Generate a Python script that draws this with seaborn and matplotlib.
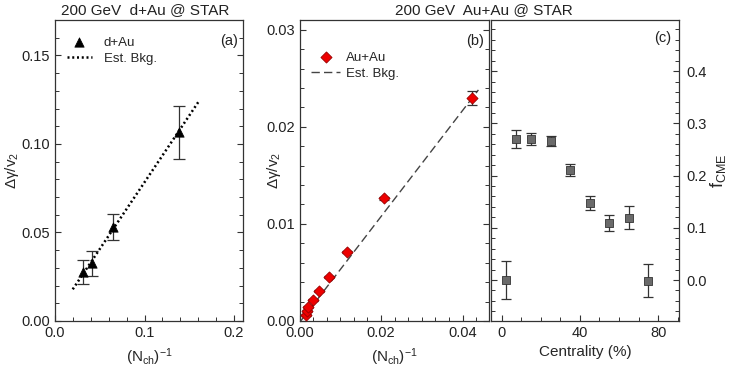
import numpy as np
import pandas as pd
import matplotlib
matplotlib.use("Agg")
import matplotlib.pyplot as plt
import seaborn as sns
from matplotlib.ticker import MultipleLocator

# ---------------- data ----------------
# (a) d+Au
dau_x = [0.0316, 0.0417, 0.0645, 0.1385]
dau_y = [0.0278, 0.0325, 0.0532, 0.1067]
dau_err = [0.0068, 0.0073, 0.0074, 0.0150]
dau_bkg_x = [0.0198, 0.160]
dau_bkg_y = [0.0179, 0.1236]

# (b) Au+Au
auau_x = [0.00151, 0.00176, 0.00215, 0.00322, 0.00476, 0.00727, 0.01176, 0.02062, 0.04242]
auau_y = [0.00062, 0.00106, 0.00140, 0.00216, 0.00309, 0.00453, 0.00707, 0.01262, 0.02294]
auau_err = [0.0001, 0.0001, 0.0001, 0.0001, 0.0001, 0.0001, 0.0001, 0.0002, 0.0007]
auau_bkg_x = [0.0003, 0.0439]
auau_bkg_y = [0.0000, 0.0238]

# (c) f_CME vs centrality
cent = [2.5, 7.5, 15, 25, 35, 45, 55, 65, 75]
fcme = [0.000, 0.270, 0.270, 0.266, 0.211, 0.148, 0.109, 0.119, -0.001]
fcme_err = [0.036, 0.017, 0.011, 0.010, 0.012, 0.013, 0.016, 0.022, 0.032]

titles = ["200 GeV  d+Au @ STAR", "200 GeV  Au+Au @ STAR"]

# ---------------- style ----------------
sns.set_theme(style="ticks")
plt.rcParams["font.family"] = ["Liberation Sans", "DejaVu Sans"]
plt.rcParams["mathtext.fontset"] = "custom"
plt.rcParams["mathtext.rm"] = "Liberation Sans"
plt.rcParams["mathtext.it"] = "Liberation Sans:italic"
SP = "#333333"
plt.rcParams.update({
    "axes.edgecolor": SP, "axes.linewidth": 0.9,
    "xtick.color": SP, "ytick.color": SP,
    "xtick.labelcolor": "#222222", "ytick.labelcolor": "#222222",
    "xtick.direction": "in", "ytick.direction": "in",
    "xtick.major.size": 4.5, "ytick.major.size": 4.5,
    "xtick.minor.size": 3, "ytick.minor.size": 3,
    "xtick.major.width": 0.8, "ytick.major.width": 0.8,
    "xtick.minor.width": 0.7, "ytick.minor.width": 0.7,
    "xtick.labelsize": 10.5, "ytick.labelsize": 10.5,
})

W, H = 732, 375
fig = plt.figure(figsize=(W / 100, H / 100), dpi=100)

def rect(l, r, t=20, b=321):
    return [l / W, 1 - b / H, (r - l) / W, (b - t) / H]

axa = fig.add_axes(rect(55, 243))
axb = fig.add_axes(rect(299.5, 489))
axc = fig.add_axes(rect(491, 679))

# ---------------- panel (a) ----------------
da = pd.DataFrame({"x": dau_x, "y": dau_y})
axa.errorbar(dau_x, dau_y, yerr=dau_err, fmt="none", ecolor="#333333",
             elinewidth=0.9, capsize=4, capthick=0.9, zorder=2)
sns.lineplot(x=dau_bkg_x, y=dau_bkg_y, ax=axa, color="black", lw=1.8,
             linestyle=(0, (0.8, 1.1)), label="Est. Bkg.", zorder=1)
sns.scatterplot(data=da, x="x", y="y", ax=axa, marker="^", color="black",
                s=45, edgecolor="black", label="d+Au", zorder=3)
axa.set_xlim(0.0, 0.21)
axa.set_ylim(0.0, 0.17)
axa.xaxis.set_major_locator(MultipleLocator(0.1))
axa.xaxis.set_minor_locator(MultipleLocator(0.02))
axa.yaxis.set_major_locator(MultipleLocator(0.05))
axa.yaxis.set_minor_locator(MultipleLocator(0.01))
axa.xaxis.set_major_formatter(matplotlib.ticker.FormatStrFormatter("%.1f"))
axa.yaxis.set_major_formatter(matplotlib.ticker.FormatStrFormatter("%.2f"))
axa.tick_params(axis="y", which="both", left=True, right=True)
axa.set_xlabel(r"$\mathregular{(N_{ch})^{-1}}$", fontsize=11)
axa.set_ylabel(r"$\mathregular{\Delta\gamma/v_2}$", fontsize=11)
axa.yaxis.set_label_coords(-0.18, 0.5)
axa.xaxis.set_label_coords(0.5, -0.085)
h, l = axa.get_legend_handles_labels()
order = [l.index("d+Au"), l.index("Est. Bkg.")]
axa.legend([h[i] for i in order], [l[i] for i in order], loc="upper left",
           frameon=False, fontsize=9.5, bbox_to_anchor=(0.0, 0.985),
           handlelength=1.9, handletextpad=0.9, labelspacing=0.3)
axa.text(0.975, 0.955, "(a)", transform=axa.transAxes, ha="right", va="top",
         fontsize=10.5, color="#222222")

# ---------------- panel (b) ----------------
db = pd.DataFrame({"x": auau_x, "y": auau_y})
axb.errorbar(auau_x, auau_y, yerr=auau_err, fmt="none", ecolor="#333333",
             elinewidth=0.9, capsize=3.5, capthick=0.9, zorder=2)
sns.lineplot(x=auau_bkg_x, y=auau_bkg_y, ax=axb, color="#444444", lw=1.0,
             linestyle=(0, (6, 3)), label="Est. Bkg.", zorder=1)
sns.scatterplot(data=db, x="x", y="y", ax=axb, marker="D", color="#ee0000",
                s=32, edgecolor="#990000", linewidth=0.6, label="Au+Au", zorder=3)
axb.set_xlim(0.0, 0.0465)
axb.set_ylim(0.0, 0.031)
axb.xaxis.set_major_locator(MultipleLocator(0.02))
axb.xaxis.set_minor_locator(MultipleLocator(0.02 / 6))
axb.yaxis.set_major_locator(MultipleLocator(0.01))
axb.yaxis.set_minor_locator(MultipleLocator(0.002))
axb.xaxis.set_major_formatter(matplotlib.ticker.FormatStrFormatter("%.2f"))
axb.yaxis.set_major_formatter(matplotlib.ticker.FormatStrFormatter("%.2f"))
axb.tick_params(axis="y", which="both", left=True, right=True)
axb.set_xlabel(r"$\mathregular{(N_{ch})^{-1}}$", fontsize=11)
axb.set_ylabel(r"$\mathregular{\Delta\gamma/v_2}$", fontsize=11)
axb.yaxis.set_label_coords(-0.085, 0.5)
axb.xaxis.set_label_coords(0.5, -0.085)
h, l = axb.get_legend_handles_labels()
order = [l.index("Au+Au"), l.index("Est. Bkg.")]
axb.legend([h[i] for i in order], [l[i] for i in order], loc="upper left",
           frameon=False, fontsize=9.5, bbox_to_anchor=(0.0, 0.935),
           handlelength=2.2, handletextpad=0.4, labelspacing=0.3)
axb.text(0.975, 0.955, "(b)", transform=axb.transAxes, ha="right", va="top",
         fontsize=10.5, color="#222222")

# ---------------- panel (c) ----------------
dc = pd.DataFrame({"x": cent, "y": fcme})
axc.errorbar(cent, fcme, yerr=fcme_err, fmt="none", ecolor="#333333",
             elinewidth=0.9, capsize=3.5, capthick=0.9, zorder=2)
sns.scatterplot(data=dc, x="x", y="y", ax=axc, marker="s", color="#6a6a6a",
                s=34, edgecolor="#333333", linewidth=0.6, zorder=3, legend=False)
axc.set_xlim(-5.4, 90.6)
axc.set_ylim(-0.0785, 0.498)
axc.xaxis.set_major_locator(MultipleLocator(40))
axc.xaxis.set_minor_locator(MultipleLocator(10))
axc.yaxis.set_major_locator(MultipleLocator(0.1))
axc.yaxis.set_minor_locator(MultipleLocator(0.02))
axc.yaxis.set_major_formatter(matplotlib.ticker.FormatStrFormatter("%.1f"))
axc.yaxis.tick_right()
axc.yaxis.set_label_position("right")
axc.tick_params(axis="y", which="both", left=True, right=True,
                labelleft=False, labelright=True, pad=5.5)
axc.set_xlabel("Centrality (%)", fontsize=11)
axc.xaxis.set_label_coords(0.5, -0.08)
axc.set_ylabel(r"$\mathregular{f_{CME}}$", fontsize=13, rotation=90)
axc.yaxis.set_label_coords(1.155, 0.5)
axc.text(0.96, 0.965, "(c)", transform=axc.transAxes, ha="right", va="top",
         fontsize=10.5, color="#222222")

for ax in (axa, axb, axc):
    for s in ax.spines.values():
        s.set_visible(True)

fig.text(145 / W, 1 - 10 / H, titles[0], ha="center", va="center",
         fontsize=11, color="#222222")
fig.text(484 / W, 1 - 10 / H, titles[1], ha="center", va="center",
         fontsize=11, color="#222222")

fig.savefig("out.png", dpi=100)
